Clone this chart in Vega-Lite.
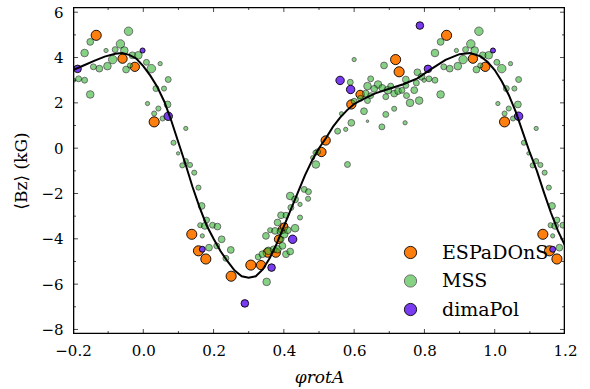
{
  "$schema": "https://vega.github.io/schema/vega-lite/v6.json",
  "width": 492,
  "height": 327,
  "autosize": "none",
  "padding": {"left": 73, "top": 7, "right": 25, "bottom": 55},
  "background": "white",
  "config": {
    "font": "DejaVu Serif",
    "view": {"stroke": null},
    "axis": {"grid": false, "labelColor": "black", "titleColor": "black", "labelFont": "DejaVu Serif", "titleFont": "DejaVu Serif", "labelFontSize": 15, "titleFontSize": 17, "titleFontWeight": "normal"}
  },
  "resolve": {"scale": {"size": "independent"}},
  "datasets": {
    "pts": [
      {"x": -0.134, "y": 4.98, "src": "ESPaDOnS", "w": 12},
      {"x": -0.059, "y": 3.95, "src": "ESPaDOnS", "w": 11},
      {"x": -0.024, "y": 3.59, "src": "ESPaDOnS", "w": 11},
      {"x": 0.031, "y": 1.16, "src": "ESPaDOnS", "w": 12},
      {"x": 0.138, "y": -3.8, "src": "ESPaDOnS", "w": 12},
      {"x": 0.157, "y": -4.53, "src": "ESPaDOnS", "w": 12},
      {"x": 0.178, "y": -4.89, "src": "ESPaDOnS", "w": 12},
      {"x": 0.25, "y": -5.65, "src": "ESPaDOnS", "w": 12},
      {"x": 0.306, "y": -5.16, "src": "ESPaDOnS", "w": 12},
      {"x": 0.335, "y": -5.16, "src": "ESPaDOnS", "w": 11},
      {"x": 0.354, "y": -4.61, "src": "ESPaDOnS", "w": 11},
      {"x": 0.377, "y": -4.61, "src": "ESPaDOnS", "w": 11},
      {"x": 0.385, "y": -4.02, "src": "ESPaDOnS", "w": 10},
      {"x": 0.396, "y": -3.58, "src": "ESPaDOnS", "w": 10},
      {"x": 0.401, "y": -3.46, "src": "ESPaDOnS", "w": 9},
      {"x": 0.507, "y": -0.17, "src": "ESPaDOnS", "w": 11},
      {"x": 0.519, "y": 0.34, "src": "ESPaDOnS", "w": 11},
      {"x": 0.592, "y": 1.93, "src": "ESPaDOnS", "w": 11},
      {"x": 0.617, "y": 2.37, "src": "ESPaDOnS", "w": 10},
      {"x": 0.718, "y": 3.91, "src": "ESPaDOnS", "w": 12},
      {"x": 0.728, "y": 3.37, "src": "ESPaDOnS", "w": 12},
      {"x": 0.863, "y": 4.98, "src": "ESPaDOnS", "w": 12},
      {"x": 0.938, "y": 3.95, "src": "ESPaDOnS", "w": 11},
      {"x": 0.973, "y": 3.59, "src": "ESPaDOnS", "w": 11},
      {"x": 1.028, "y": 1.16, "src": "ESPaDOnS", "w": 12},
      {"x": 1.137, "y": -3.8, "src": "ESPaDOnS", "w": 12},
      {"x": 1.156, "y": -4.53, "src": "ESPaDOnS", "w": 12},
      {"x": 1.177, "y": -4.89, "src": "ESPaDOnS", "w": 12},

      {"x": -0.042, "y": 5.16, "src": "MSS", "w": 10},
      {"x": -0.151, "y": 4.69, "src": "MSS", "w": 8},
      {"x": -0.167, "y": 4.2, "src": "MSS", "w": 9},
      {"x": -0.106, "y": 4.31, "src": "MSS", "w": 5},
      {"x": -0.065, "y": 4.6, "src": "MSS", "w": 10},
      {"x": -0.08, "y": 4.35, "src": "MSS", "w": 7},
      {"x": -0.054, "y": 4.31, "src": "MSS", "w": 9},
      {"x": -0.031, "y": 4.1, "src": "MSS", "w": 8},
      {"x": -0.014, "y": 4.1, "src": "MSS", "w": 9},
      {"x": -0.087, "y": 3.91, "src": "MSS", "w": 10},
      {"x": -0.102, "y": 3.62, "src": "MSS", "w": 9},
      {"x": -0.125, "y": 3.51, "src": "MSS", "w": 8},
      {"x": -0.142, "y": 3.59, "src": "MSS", "w": 7},
      {"x": -0.049, "y": 3.47, "src": "MSS", "w": 8},
      {"x": -0.038, "y": 3.65, "src": "MSS", "w": 6},
      {"x": 0.009, "y": 3.79, "src": "MSS", "w": 7},
      {"x": 0.023, "y": 3.51, "src": "MSS", "w": 10},
      {"x": 0.048, "y": 3.73, "src": "MSS", "w": 5},
      {"x": -0.198, "y": 3.0, "src": "MSS", "w": 5},
      {"x": -0.184, "y": 3.06, "src": "MSS", "w": 7},
      {"x": -0.167, "y": 3.0, "src": "MSS", "w": 7},
      {"x": -0.151, "y": 2.37, "src": "MSS", "w": 9},
      {"x": 0.071, "y": 3.03, "src": "MSS", "w": 7},
      {"x": 0.059, "y": 2.63, "src": "MSS", "w": 6},
      {"x": 0.036, "y": 2.63, "src": "MSS", "w": 7},
      {"x": 0.012, "y": 1.97, "src": "MSS", "w": 5},
      {"x": 0.069, "y": 1.93, "src": "MSS", "w": 8},
      {"x": 0.043, "y": 1.75, "src": "MSS", "w": 6},
      {"x": 0.031, "y": 1.53, "src": "MSS", "w": 6},
      {"x": 0.055, "y": 1.31, "src": "MSS", "w": 6},
      {"x": 0.121, "y": 0.87, "src": "MSS", "w": 5},
      {"x": 0.086, "y": 0.24, "src": "MSS", "w": 6},
      {"x": 0.099, "y": -0.23, "src": "MSS", "w": 4},
      {"x": 0.121, "y": -0.57, "src": "MSS", "w": 6},
      {"x": 0.133, "y": -0.74, "src": "MSS", "w": 6},
      {"x": 0.111, "y": -0.76, "src": "MSS", "w": 6},
      {"x": 0.145, "y": -1.08, "src": "MSS", "w": 6},
      {"x": 0.157, "y": -1.74, "src": "MSS", "w": 6},
      {"x": 0.166, "y": -2.55, "src": "MSS", "w": 8},
      {"x": 0.18, "y": -3.17, "src": "MSS", "w": 7},
      {"x": 0.162, "y": -3.4, "src": "MSS", "w": 6},
      {"x": 0.175, "y": -3.43, "src": "MSS", "w": 8},
      {"x": 0.197, "y": -3.4, "src": "MSS", "w": 7},
      {"x": 0.168, "y": -3.87, "src": "MSS", "w": 5},
      {"x": 0.187, "y": -4.39, "src": "MSS", "w": 8},
      {"x": 0.211, "y": -3.46, "src": "MSS", "w": 8},
      {"x": 0.223, "y": -4.02, "src": "MSS", "w": 8},
      {"x": 0.209, "y": -4.31, "src": "MSS", "w": 7},
      {"x": 0.249, "y": -4.49, "src": "MSS", "w": 8},
      {"x": 0.235, "y": -4.86, "src": "MSS", "w": 7},
      {"x": 0.351, "y": -5.9, "src": "MSS", "w": 9},
      {"x": 0.327, "y": -4.8, "src": "MSS", "w": 7},
      {"x": 0.339, "y": -4.68, "src": "MSS", "w": 8},
      {"x": 0.356, "y": -4.53, "src": "MSS", "w": 9},
      {"x": 0.371, "y": -4.46, "src": "MSS", "w": 8},
      {"x": 0.382, "y": -4.46, "src": "MSS", "w": 9},
      {"x": 0.396, "y": -4.31, "src": "MSS", "w": 8},
      {"x": 0.406, "y": -4.68, "src": "MSS", "w": 8},
      {"x": 0.418, "y": -4.56, "src": "MSS", "w": 8},
      {"x": 0.392, "y": -4.02, "src": "MSS", "w": 7},
      {"x": 0.401, "y": -3.8, "src": "MSS", "w": 9},
      {"x": 0.349, "y": -3.87, "src": "MSS", "w": 8},
      {"x": 0.361, "y": -3.62, "src": "MSS", "w": 6},
      {"x": 0.375, "y": -3.65, "src": "MSS", "w": 8},
      {"x": 0.389, "y": -3.68, "src": "MSS", "w": 7},
      {"x": 0.411, "y": -3.62, "src": "MSS", "w": 8},
      {"x": 0.432, "y": -3.53, "src": "MSS", "w": 9},
      {"x": 0.382, "y": -3.28, "src": "MSS", "w": 8},
      {"x": 0.392, "y": -2.96, "src": "MSS", "w": 8},
      {"x": 0.406, "y": -2.96, "src": "MSS", "w": 7},
      {"x": 0.42, "y": -2.62, "src": "MSS", "w": 7},
      {"x": 0.446, "y": -3.06, "src": "MSS", "w": 6},
      {"x": 0.418, "y": -2.11, "src": "MSS", "w": 9},
      {"x": 0.432, "y": -2.26, "src": "MSS", "w": 8},
      {"x": 0.446, "y": -2.48, "src": "MSS", "w": 5},
      {"x": 0.458, "y": -1.82, "src": "MSS", "w": 7},
      {"x": 0.47, "y": -1.92, "src": "MSS", "w": 7},
      {"x": 0.469, "y": -2.23, "src": "MSS", "w": 6},
      {"x": 0.6, "y": 3.91, "src": "MSS", "w": 5},
      {"x": 0.685, "y": 3.65, "src": "MSS", "w": 8},
      {"x": 0.589, "y": 2.91, "src": "MSS", "w": 7},
      {"x": 0.647, "y": 3.06, "src": "MSS", "w": 7},
      {"x": 0.668, "y": 2.81, "src": "MSS", "w": 9},
      {"x": 0.638, "y": 2.74, "src": "MSS", "w": 9},
      {"x": 0.657, "y": 2.62, "src": "MSS", "w": 8},
      {"x": 0.633, "y": 2.41, "src": "MSS", "w": 8},
      {"x": 0.618, "y": 2.2, "src": "MSS", "w": 7},
      {"x": 0.647, "y": 2.32, "src": "MSS", "w": 7},
      {"x": 0.68, "y": 2.66, "src": "MSS", "w": 8},
      {"x": 0.696, "y": 2.56, "src": "MSS", "w": 9},
      {"x": 0.704, "y": 2.74, "src": "MSS", "w": 7},
      {"x": 0.714, "y": 2.41, "src": "MSS", "w": 8},
      {"x": 0.69, "y": 2.27, "src": "MSS", "w": 7},
      {"x": 0.725, "y": 2.52, "src": "MSS", "w": 8},
      {"x": 0.638, "y": 2.1, "src": "MSS", "w": 7},
      {"x": 0.6, "y": 2.07, "src": "MSS", "w": 7},
      {"x": 0.628, "y": 1.63, "src": "MSS", "w": 8},
      {"x": 0.564, "y": 1.52, "src": "MSS", "w": 5},
      {"x": 0.592, "y": 1.12, "src": "MSS", "w": 8},
      {"x": 0.638, "y": 1.19, "src": "MSS", "w": 3},
      {"x": 0.69, "y": 1.49, "src": "MSS", "w": 7},
      {"x": 0.714, "y": 1.74, "src": "MSS", "w": 6},
      {"x": 0.679, "y": 0.94, "src": "MSS", "w": 7},
      {"x": 0.576, "y": 0.83, "src": "MSS", "w": 5},
      {"x": 0.553, "y": 0.75, "src": "MSS", "w": 7},
      {"x": 0.496, "y": -0.16, "src": "MSS", "w": 7},
      {"x": 0.49, "y": -0.2, "src": "MSS", "w": 6},
      {"x": 0.482, "y": -0.42, "src": "MSS", "w": 5},
      {"x": 0.491, "y": -0.72, "src": "MSS", "w": 9},
      {"x": 0.581, "y": -0.72, "src": "MSS", "w": 7},
      {"x": 0.747, "y": 3.03, "src": "MSS", "w": 8},
      {"x": 0.78, "y": 3.35, "src": "MSS", "w": 8},
      {"x": 0.792, "y": 3.15, "src": "MSS", "w": 8},
      {"x": 0.777, "y": 2.88, "src": "MSS", "w": 7},
      {"x": 0.747, "y": 2.77, "src": "MSS", "w": 7},
      {"x": 0.771, "y": 2.56, "src": "MSS", "w": 8},
      {"x": 0.736, "y": 2.55, "src": "MSS", "w": 7},
      {"x": 0.749, "y": 2.32, "src": "MSS", "w": 7},
      {"x": 0.785, "y": 2.1, "src": "MSS", "w": 9},
      {"x": 0.759, "y": 2.0, "src": "MSS", "w": 9},
      {"x": 0.745, "y": 1.12, "src": "MSS", "w": 5},
      {"x": 0.955, "y": 5.16, "src": "MSS", "w": 10},
      {"x": 0.846, "y": 4.69, "src": "MSS", "w": 8},
      {"x": 0.83, "y": 4.2, "src": "MSS", "w": 9},
      {"x": 0.891, "y": 4.31, "src": "MSS", "w": 5},
      {"x": 0.932, "y": 4.6, "src": "MSS", "w": 10},
      {"x": 0.917, "y": 4.35, "src": "MSS", "w": 7},
      {"x": 0.943, "y": 4.31, "src": "MSS", "w": 9},
      {"x": 0.966, "y": 4.1, "src": "MSS", "w": 8},
      {"x": 0.983, "y": 4.1, "src": "MSS", "w": 9},
      {"x": 0.91, "y": 3.91, "src": "MSS", "w": 10},
      {"x": 0.895, "y": 3.62, "src": "MSS", "w": 9},
      {"x": 0.872, "y": 3.51, "src": "MSS", "w": 8},
      {"x": 0.855, "y": 3.59, "src": "MSS", "w": 7},
      {"x": 0.948, "y": 3.47, "src": "MSS", "w": 8},
      {"x": 0.959, "y": 3.65, "src": "MSS", "w": 6},
      {"x": 1.006, "y": 3.79, "src": "MSS", "w": 7},
      {"x": 1.02, "y": 3.51, "src": "MSS", "w": 10},
      {"x": 1.045, "y": 3.73, "src": "MSS", "w": 5},
      {"x": 0.799, "y": 3.0, "src": "MSS", "w": 5},
      {"x": 0.813, "y": 3.06, "src": "MSS", "w": 7},
      {"x": 0.83, "y": 3.0, "src": "MSS", "w": 7},
      {"x": 0.846, "y": 2.37, "src": "MSS", "w": 9},
      {"x": 1.068, "y": 3.03, "src": "MSS", "w": 7},
      {"x": 1.056, "y": 2.63, "src": "MSS", "w": 6},
      {"x": 1.033, "y": 2.63, "src": "MSS", "w": 7},
      {"x": 1.009, "y": 1.97, "src": "MSS", "w": 5},
      {"x": 1.066, "y": 1.93, "src": "MSS", "w": 8},
      {"x": 1.04, "y": 1.75, "src": "MSS", "w": 6},
      {"x": 1.028, "y": 1.53, "src": "MSS", "w": 6},
      {"x": 1.052, "y": 1.31, "src": "MSS", "w": 6},
      {"x": 1.118, "y": 0.87, "src": "MSS", "w": 5},
      {"x": 1.083, "y": 0.24, "src": "MSS", "w": 6},
      {"x": 1.096, "y": -0.23, "src": "MSS", "w": 4},
      {"x": 1.118, "y": -0.57, "src": "MSS", "w": 6},
      {"x": 1.13, "y": -0.74, "src": "MSS", "w": 6},
      {"x": 1.108, "y": -0.76, "src": "MSS", "w": 6},
      {"x": 1.142, "y": -1.08, "src": "MSS", "w": 6},
      {"x": 1.154, "y": -1.74, "src": "MSS", "w": 6},
      {"x": 1.163, "y": -2.55, "src": "MSS", "w": 8},
      {"x": 1.177, "y": -3.17, "src": "MSS", "w": 7},
      {"x": 1.159, "y": -3.4, "src": "MSS", "w": 6},
      {"x": 1.172, "y": -3.43, "src": "MSS", "w": 8},
      {"x": 1.194, "y": -3.4, "src": "MSS", "w": 7},
      {"x": 1.165, "y": -3.87, "src": "MSS", "w": 5},
      {"x": 1.184, "y": -4.39, "src": "MSS", "w": 8},

      {"x": -0.187, "y": 3.5, "src": "dimaPol", "w": 9},
      {"x": -0.002, "y": 4.31, "src": "dimaPol", "w": 6},
      {"x": 0.071, "y": 1.41, "src": "dimaPol", "w": 10},
      {"x": 0.168, "y": -4.46, "src": "dimaPol", "w": 7},
      {"x": 0.289, "y": -6.85, "src": "dimaPol", "w": 9},
      {"x": 0.365, "y": -5.27, "src": "dimaPol", "w": 9},
      {"x": 0.425, "y": -4.02, "src": "dimaPol", "w": 10},
      {"x": 0.56, "y": 2.99, "src": "dimaPol", "w": 10},
      {"x": 0.59, "y": 2.59, "src": "dimaPol", "w": 10},
      {"x": 0.787, "y": 5.41, "src": "dimaPol", "w": 9},
      {"x": 0.81, "y": 3.5, "src": "dimaPol", "w": 9},
      {"x": 0.995, "y": 4.31, "src": "dimaPol", "w": 6},
      {"x": 1.068, "y": 1.41, "src": "dimaPol", "w": 10},
      {"x": 1.165, "y": -4.46, "src": "dimaPol", "w": 7}
    ],
    "curve": [
      {"x": -0.2, "y": 3.45}, {"x": -0.17, "y": 3.65}, {"x": -0.14, "y": 3.85}, {"x": -0.11, "y": 4.04},
      {"x": -0.08, "y": 4.17}, {"x": -0.06, "y": 4.2}, {"x": -0.04, "y": 4.12}, {"x": -0.02, "y": 3.95},
      {"x": 0.0, "y": 3.62}, {"x": 0.02, "y": 3.2}, {"x": 0.04, "y": 2.7}, {"x": 0.06, "y": 2.05},
      {"x": 0.08, "y": 1.2}, {"x": 0.1, "y": 0.25}, {"x": 0.12, "y": -0.7}, {"x": 0.14, "y": -1.7},
      {"x": 0.16, "y": -2.6}, {"x": 0.18, "y": -3.4}, {"x": 0.2, "y": -4.0}, {"x": 0.22, "y": -4.55},
      {"x": 0.24, "y": -5.0}, {"x": 0.26, "y": -5.4}, {"x": 0.28, "y": -5.65}, {"x": 0.3, "y": -5.72},
      {"x": 0.32, "y": -5.65}, {"x": 0.34, "y": -5.35}, {"x": 0.36, "y": -4.85}, {"x": 0.38, "y": -4.2},
      {"x": 0.4, "y": -3.45}, {"x": 0.42, "y": -2.7}, {"x": 0.44, "y": -1.95}, {"x": 0.46, "y": -1.2},
      {"x": 0.48, "y": -0.55}, {"x": 0.5, "y": 0.0}, {"x": 0.52, "y": 0.45}, {"x": 0.54, "y": 0.95},
      {"x": 0.56, "y": 1.35}, {"x": 0.58, "y": 1.68}, {"x": 0.6, "y": 1.95}, {"x": 0.63, "y": 2.2},
      {"x": 0.66, "y": 2.42}, {"x": 0.7, "y": 2.62}, {"x": 0.74, "y": 2.82}, {"x": 0.78, "y": 3.08},
      {"x": 0.82, "y": 3.5}, {"x": 0.86, "y": 3.9}, {"x": 0.9, "y": 4.15}, {"x": 0.93, "y": 4.2},
      {"x": 0.96, "y": 4.05}, {"x": 0.98, "y": 3.8}, {"x": 1.0, "y": 3.45}, {"x": 1.02, "y": 2.95},
      {"x": 1.04, "y": 2.35}, {"x": 1.06, "y": 1.6}, {"x": 1.08, "y": 0.7}, {"x": 1.1, "y": -0.2},
      {"x": 1.12, "y": -1.0}, {"x": 1.14, "y": -1.95}, {"x": 1.16, "y": -2.85}, {"x": 1.18, "y": -3.65},
      {"x": 1.2, "y": -4.3}
    ],
    "frame": [
      {"fx": -0.2, "fy": -8.2, "i": 0}, {"fx": 1.2, "fy": -8.2, "i": 1}, {"fx": 1.2, "fy": 6.23, "i": 2},
      {"fx": -0.2, "fy": 6.23, "i": 3}, {"fx": -0.2, "fy": -8.2, "i": 4}
    ],
    "xticks": [
      {"v": -0.2, "k": "major"}, {"v": -0.1, "k": "minor"}, {"v": 0.0, "k": "major"}, {"v": 0.1, "k": "minor"},
      {"v": 0.2, "k": "major"}, {"v": 0.3, "k": "minor"}, {"v": 0.4, "k": "major"}, {"v": 0.5, "k": "minor"},
      {"v": 0.6, "k": "major"}, {"v": 0.7, "k": "minor"}, {"v": 0.8, "k": "major"}, {"v": 0.9, "k": "minor"},
      {"v": 1.0, "k": "major"}, {"v": 1.1, "k": "minor"}, {"v": 1.2, "k": "major"}
    ],
    "yticks": [
      {"v": -8, "k": "major"}, {"v": -7, "k": "minor"}, {"v": -6, "k": "major"}, {"v": -5, "k": "minor"},
      {"v": -4, "k": "major"}, {"v": -3, "k": "minor"}, {"v": -2, "k": "major"}, {"v": -1, "k": "minor"},
      {"v": 0, "k": "major"}, {"v": 1, "k": "minor"}, {"v": 2, "k": "major"}, {"v": 3, "k": "minor"},
      {"v": 4, "k": "major"}, {"v": 5, "k": "minor"}, {"v": 6, "k": "major"}
    ]
  },
  "layer": [
    {
      "data": {"name": "pts"},
      "mark": {"type": "point", "filled": true, "stroke": "black", "strokeWidth": 0.9, "clip": true},
      "encoding": {
        "x": {"field": "x", "type": "quantitative", "scale": {"domain": [-0.2, 1.2], "nice": false, "zero": false},
          "axis": {"orient": "bottom", "values": [-0.2, 0, 0.2, 0.4, 0.6, 0.8, 1.0, 1.2], "format": ".1f", "domain": false, "ticks": false, "labelFlush": false, "labelPadding": 9, "title": "φrotA", "titlePadding": 11, "titleFontStyle": "italic"}},
        "y": {"field": "y", "type": "quantitative", "scale": {"domain": [-8.2, 6.23], "nice": false, "zero": false},
          "axis": {"orient": "left", "values": [-8, -6, -4, -2, 0, 2, 4, 6], "format": "d", "domain": false, "ticks": false, "labelFlush": false, "labelPadding": 10, "title": "⟨Bz⟩ (kG)", "titlePadding": 10}},
        "fill": {"field": "src", "type": "nominal", "sort": ["ESPaDOnS", "MSS", "dimaPol"],
          "scale": {"domain": ["ESPaDOnS", "MSS", "dimaPol"], "range": ["#ff7f0e", "#3cb83c", "#7a3cf0"]},
          "legend": {"title": null, "orient": "none", "legendX": 328, "legendY": 236, "padding": 0, "labelFontSize": 19, "labelFont": "DejaVu Serif", "labelColor": "black", "symbolSize": 150, "symbolStrokeColor": "black", "symbolStrokeWidth": 0.9, "labelOffset": 22, "rowPadding": 8.5, "symbolType": "circle"}},
        "opacity": {"field": "src", "type": "nominal", "scale": {"type": "ordinal", "domain": ["ESPaDOnS", "MSS", "dimaPol"], "range": [1, 0.62, 1]}, "legend": null},
        "size": {"field": "w", "type": "quantitative", "scale": {"type": "pow", "exponent": 2, "domain": [0, 13], "range": [0, 120]}, "legend": null},
        "order": {"field": "src", "type": "nominal", "sort": "ascending"}
      }
    },
    {
      "data": {"name": "frame"},
      "mark": {"type": "line", "color": "black", "strokeWidth": 2.6, "clip": true},
      "encoding": {
        "x": {"field": "fx", "type": "quantitative"},
        "y": {"field": "fy", "type": "quantitative"},
        "order": {"field": "i", "type": "quantitative"}
      }
    },
    {
      "data": {"name": "curve"},
      "mark": {"type": "line", "color": "black", "strokeWidth": 2, "clip": true},
      "encoding": {
        "x": {"field": "x", "type": "quantitative"},
        "y": {"field": "y", "type": "quantitative"}
      }
    },
    {
      "data": {"name": "xticks"},
      "mark": {"type": "point", "shape": "M0,0L0,-1", "filled": false, "stroke": "black", "strokeWidth": 1, "clip": true},
      "encoding": {
        "x": {"field": "v", "type": "quantitative"},
        "y": {"datum": -8.2, "type": "quantitative"},
        "size": {"field": "k", "type": "nominal", "scale": {"type": "ordinal", "domain": ["major", "minor"], "range": [100, 36]}, "legend": null}
      }
    },
    {
      "data": {"name": "xticks"},
      "mark": {"type": "point", "shape": "M0,0L0,1", "filled": false, "stroke": "black", "strokeWidth": 1, "clip": true},
      "encoding": {
        "x": {"field": "v", "type": "quantitative"},
        "y": {"datum": 6.23, "type": "quantitative"},
        "size": {"field": "k", "type": "nominal", "scale": {"type": "ordinal", "domain": ["major", "minor"], "range": [100, 36]}, "legend": null}
      }
    },
    {
      "data": {"name": "yticks"},
      "mark": {"type": "point", "shape": "M0,0L1,0", "filled": false, "stroke": "black", "strokeWidth": 1, "clip": true},
      "encoding": {
        "y": {"field": "v", "type": "quantitative"},
        "x": {"datum": -0.2, "type": "quantitative"},
        "size": {"field": "k", "type": "nominal", "scale": {"type": "ordinal", "domain": ["major", "minor"], "range": [100, 36]}, "legend": null}
      }
    },
    {
      "data": {"name": "yticks"},
      "mark": {"type": "point", "shape": "M0,0L-1,0", "filled": false, "stroke": "black", "strokeWidth": 1, "clip": true},
      "encoding": {
        "y": {"field": "v", "type": "quantitative"},
        "x": {"datum": 1.2, "type": "quantitative"},
        "size": {"field": "k", "type": "nominal", "scale": {"type": "ordinal", "domain": ["major", "minor"], "range": [100, 36]}, "legend": null}
      }
    }
  ]
}
